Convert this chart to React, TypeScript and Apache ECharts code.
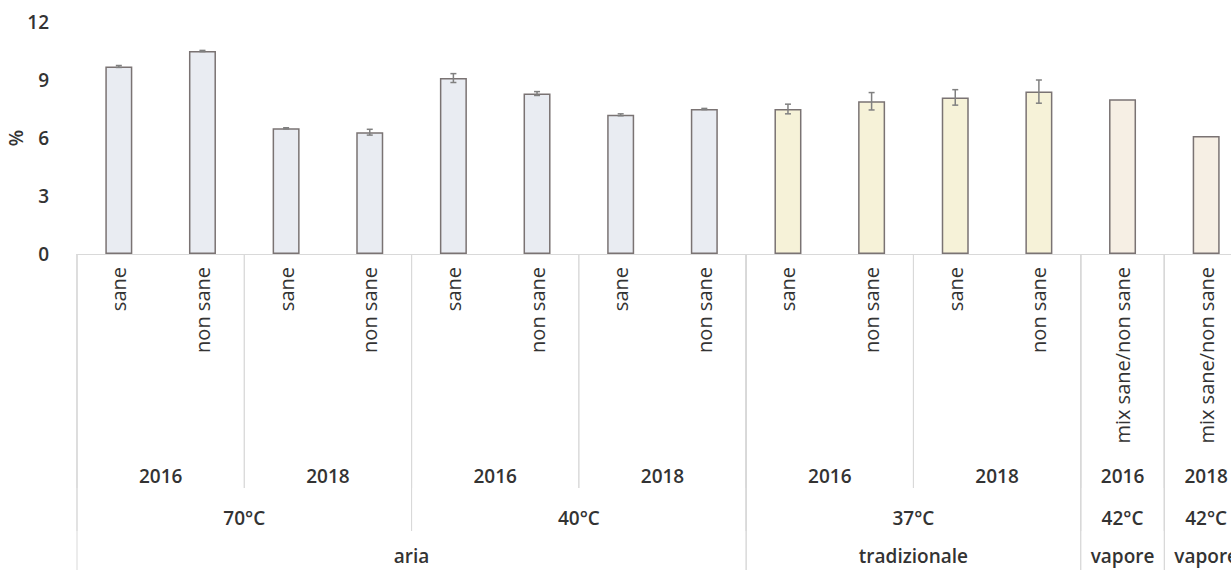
import React, { useEffect, useRef } from 'react';
import * as echarts from 'echarts';

// Leaf categories along the x axis
const leafLabels = [
  'sane', 'non sane', 'sane', 'non sane',
  'sane', 'non sane', 'sane', 'non sane',
  'sane', 'non sane', 'sane', 'non sane',
  'mix sane/non sane', 'mix sane/non sane',
];

// Mean values (%) and their error (±)
const values = [9.7, 10.5, 6.5, 6.3, 9.1, 8.3, 7.2, 7.5, 7.5, 7.9, 8.1, 8.4, 8.0, 6.1];
const errors = [0.05, 0.03, 0.03, 0.15, 0.23, 0.1, 0.05, 0.03, 0.25, 0.45, 0.4, 0.6, 0, 0];

// Grouping levels below the leaf labels
const yearLabels = ['2016', '2018', '2016', '2018', '2016', '2018', '2016', '2018'];
const yearSpans = [2, 2, 2, 2, 2, 2, 1, 1];
const tempLabels = ['70°C', '40°C', '37°C', '42°C', '42°C'];
const tempSpans = [4, 4, 4, 1, 1];
const methodLabels = ['aria', 'tradizionale', 'vapore', 'vapore'];
const methodSpans = [8, 4, 1, 1];
const methodColors = ['#e9ecf2', '#f6f2d8', '#f6efe4', '#f6efe4'];

const yTicks = { min: 0, max: 12, interval: 3 };

const FONT = 'Open Sans';
const TEXT = '#333333';
const SEP = '#d9d9d9';

function spansToItems(spans: number[]) {
  const items: number[][] = [];
  let start = 0;
  spans.forEach((s, i) => {
    items.push([start, 0, start + s - 1, i]);
    start += s;
  });
  return items;
}

function barColors() {
  const colors: string[] = [];
  methodSpans.forEach((s, i) => {
    for (let k = 0; k < s; k++) colors.push(methodColors[i]);
  });
  return colors;
}

function levelSeries(labels: string[], spans: number[], textOffset: number, lineDepth: number) {
  return {
    type: 'custom',
    silent: true,
    clip: false,
    z: 1,
    data: spansToItems(spans),
    encode: { x: 0, y: 1 },
    renderItem: (params: any, api: any) => {
      const s = api.value(0);
      const e = api.value(2);
      const bw = api.size([1, 0])[0];
      const p0 = api.coord([s, 0]);
      const p1 = api.coord([e, 0]);
      const xl = p0[0] - bw / 2;
      const xr = p1[0] + bw / 2;
      const y0 = p0[1];
      return {
        type: 'group',
        children: [
          { type: 'line', shape: { x1: xl, y1: y0, x2: xl, y2: y0 + lineDepth }, style: { stroke: SEP, lineWidth: 1 } },
          { type: 'line', shape: { x1: xr, y1: y0, x2: xr, y2: y0 + lineDepth }, style: { stroke: SEP, lineWidth: 1 } },
          {
            type: 'text',
            x: (xl + xr) / 2,
            y: y0 + textOffset,
            style: {
              text: labels[api.value(3)],
              align: 'center',
              verticalAlign: 'middle',
              fontFamily: FONT,
              fontSize: 19,
              fontWeight: 600,
              fill: TEXT,
            },
          },
        ],
      };
    },
  };
}

export default function App() {
  const ref = useRef<HTMLDivElement>(null);

  useEffect(() => {
    if (!ref.current) return;
    const chart = echarts.init(ref.current, null, { renderer: 'svg' });
    const colors = barColors();

    chart.setOption({
      animation: false,
      backgroundColor: '#ffffff',
      grid: { left: 77, right: -17, top: 22, bottom: 316, containLabel: false, outerBoundsMode: 'none' },
      xAxis: {
        type: 'category',
        data: leafLabels,
        axisLine: { show: true, lineStyle: { color: SEP, width: 1 } },
        axisTick: { show: false },
        axisLabel: {
          interval: 0,
          rotate: 90,
          margin: 13,
          fontFamily: FONT,
          fontSize: 20,
          color: TEXT,
        },
        splitLine: { show: false },
      },
      yAxis: {
        type: 'value',
        min: yTicks.min,
        max: yTicks.max,
        interval: yTicks.interval,
        name: '%',
        nameLocation: 'middle',
        nameRotate: 90,
        nameGap: 52,
        nameMoveOverlap: false,
        nameTextStyle: { fontFamily: FONT, fontSize: 19, fontWeight: 600, color: TEXT },
        axisLine: { show: false },
        axisTick: { show: false },
        splitLine: { show: false },
        axisLabel: { margin: 28, fontFamily: FONT, fontSize: 19, fontWeight: 600, color: TEXT },
      },
      series: [
        {
          type: 'bar',
          barWidth: 27,
          z: 2,
          data: values.map((v, i) => ({
            value: v,
            itemStyle: { color: colors[i], borderColor: '#7a7373', borderWidth: 1.5 },
          })),
        },
        {
          type: 'custom',
          silent: true,
          z: 3,
          data: values.map((v, i) => [i, v - errors[i], v + errors[i], errors[i]]),
          encode: { x: 0, y: [1, 2] },
          renderItem: (params: any, api: any) => {
            if (!api.value(3)) return null;
            const lo = api.coord([api.value(0), api.value(1)]);
            const hi = api.coord([api.value(0), api.value(2)]);
            const cap = 3;
            const st = { stroke: '#808080', lineWidth: 1.5 };
            return {
              type: 'group',
              children: [
                { type: 'line', shape: { x1: lo[0], y1: lo[1], x2: hi[0], y2: hi[1] }, style: st },
                { type: 'line', shape: { x1: lo[0] - cap, y1: lo[1], x2: lo[0] + cap, y2: lo[1] }, style: st },
                { type: 'line', shape: { x1: hi[0] - cap, y1: hi[1], x2: hi[0] + cap, y2: hi[1] }, style: st },
              ],
            };
          },
        },
        levelSeries(yearLabels, yearSpans, 222, 234),
        levelSeries(tempLabels, tempSpans, 264, 277),
        levelSeries(methodLabels, methodSpans, 302, 330),
      ],
    });

    return () => chart.dispose();
  }, []);

  return (
    <div
      ref={ref}
      style={{ position: 'fixed', left: 0, top: 0, width: 1231, height: 570, background: '#fff' }}
    />
  );
}
